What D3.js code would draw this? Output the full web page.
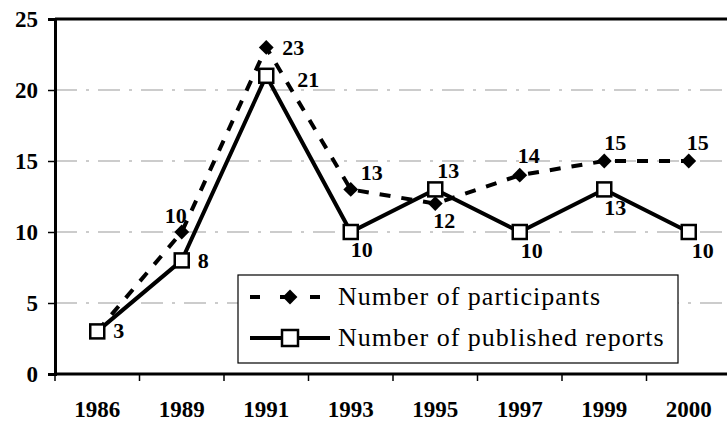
<!DOCTYPE html>
<html><head><meta charset="utf-8">
<script src="https://cdn.jsdelivr.net/npm/d3@7"></script>
<style>body{margin:0;background:#fff}svg{display:block}</style>
</head><body>
<svg id="c" width="727" height="425"></svg>
<script>
const categories = ["1986","1989","1991","1993","1995","1997","1999","2000"];
const participants = [3,10,23,13,12,14,15,15];
const reports = [3,8,21,10,13,10,13,10];
const yTicks = [0,5,10,15,20,25];
const seriesNames = ["Number of participants","Number of published reports"];
// label offsets [dx, dy] relative to point (start anchored)
const partLabelPos = [null,[-17,-9],[16,8],[10,-9],[-2,24],[-2,-12],[0,-11],[-2,-11]];
const repLabelPos = [[16,7],[16,8],[31,11],[0,25],[2,-11],[1,26],[0,26],[3,26]];

const FONT = '"Liberation Serif"';
const svg = d3.select("#c");
const pLeft = 55, pTop = 19, pBottom = 374, pRight = 731;
const x = d3.scalePoint().domain(categories).range([pLeft, pRight]).padding(0.5);
const xb = d3.scaleBand().domain(categories).range([pLeft, pRight]);
const y = d3.scaleLinear().domain([0,25]).range([pBottom, pTop]);

// gridlines
svg.append("g").selectAll("line").data(yTicks.filter(d=>d>0 && d<25)).join("line")
  .attr("x1", pLeft).attr("x2", 727).attr("y1", d=>y(d)).attr("y2", d=>y(d))
  .attr("stroke","#999").attr("stroke-width",1).attr("stroke-dasharray","22,9,3,9");
// top border
svg.append("line").attr("x1",pLeft).attr("x2",727).attr("y1",y(25)).attr("y2",y(25))
  .attr("stroke","#000").attr("stroke-width",3);

// y axis
const ya = svg.append("g").attr("transform",`translate(${pLeft},0)`)
  .call(d3.axisLeft(y).tickValues(yTicks).tickSize(7).tickPadding(10));
ya.select(".domain").attr("stroke-width",3);
ya.selectAll(".tick line").attr("stroke-width",1.5);
ya.selectAll("text").style("font-family",FONT).style("font-weight","bold").style("font-size","23px").attr("fill","#000");

// x axis
const xa = svg.append("g").attr("transform",`translate(0,${pBottom})`)
  .call(d3.axisBottom(xb).tickSize(0).tickPadding(27));
xa.select(".domain").attr("stroke-width",3).attr("d",`M${pLeft},0H727`);
xa.selectAll("text").style("font-family",FONT).style("font-weight","bold").style("font-size","23px").attr("fill","#000");
svg.append("g").selectAll("line").data(categories).join("line")
  .attr("x1",d=>xb(d)).attr("x2",d=>xb(d)).attr("y1",pBottom).attr("y2",pBottom+7)
  .attr("stroke","#000").attr("stroke-width",1.5);

const line = d3.line().x((d,i)=>x(categories[i])).y(d=>y(d));
svg.append("path").datum(participants).attr("d",line).attr("fill","none")
  .attr("stroke","#000").attr("stroke-width",4).attr("stroke-dasharray","11,11");
svg.append("path").datum(reports).attr("d",line).attr("fill","none")
  .attr("stroke","#000").attr("stroke-width",4);

const diamond = d3.symbol().type(d3.symbolDiamond2).size(140);
svg.append("g").selectAll("path").data(participants).join("path")
  .attr("d",diamond).attr("transform",(d,i)=>`translate(${x(categories[i])},${y(d)})`)
  .attr("fill","#000");
svg.append("g").selectAll("rect").data(reports).join("rect")
  .attr("x",(d,i)=>x(categories[i])-7).attr("y",d=>y(d)-7).attr("width",14).attr("height",14)
  .attr("fill","#fff").attr("stroke","#000").attr("stroke-width",2.5);

// labels
const lab = svg.append("g");
function addLabel(px, py, v){
  lab.append("text").attr("x",px).attr("y",py).style("font-family",FONT)
    .style("font-weight","bold").style("font-size","22px").attr("fill","#000").text(v);
}
participants.forEach((v,i)=>{ if(!partLabelPos[i]) return;
  addLabel(x(categories[i])+partLabelPos[i][0], y(v)+partLabelPos[i][1], v);});
reports.forEach((v,i)=>{
  addLabel(x(categories[i])+repLabelPos[i][0], y(v)+repLabelPos[i][1], v);});

// legend
const lg = svg.append("g");
lg.append("rect").attr("x",238).attr("y",275).attr("width",440).attr("height",88)
  .attr("fill","#fff").attr("stroke","#000").attr("stroke-width",1.2);
const rows=[297,338];
lg.append("line").attr("x1",250).attr("x2",330).attr("y1",rows[0]).attr("y2",rows[0])
  .attr("stroke","#000").attr("stroke-width",4).attr("stroke-dasharray","10,20");
lg.append("path").attr("d",diamond).attr("transform",`translate(290,${rows[0]})`).attr("fill","#000");
lg.append("line").attr("x1",250).attr("x2",330).attr("y1",rows[1]).attr("y2",rows[1])
  .attr("stroke","#000").attr("stroke-width",4);
lg.append("rect").attr("x",282).attr("y",rows[1]-8).attr("width",16).attr("height",16)
  .attr("fill","#fff").attr("stroke","#000").attr("stroke-width",2.5);
lg.selectAll("text").data(seriesNames).join("text").attr("x",338).attr("y",(d,i)=>rows[i]+8)
  .style("font-family",FONT).style("font-size","26px").style("letter-spacing","1px")
  .attr("fill","#000").text(d=>d);
</script>
</body></html>
